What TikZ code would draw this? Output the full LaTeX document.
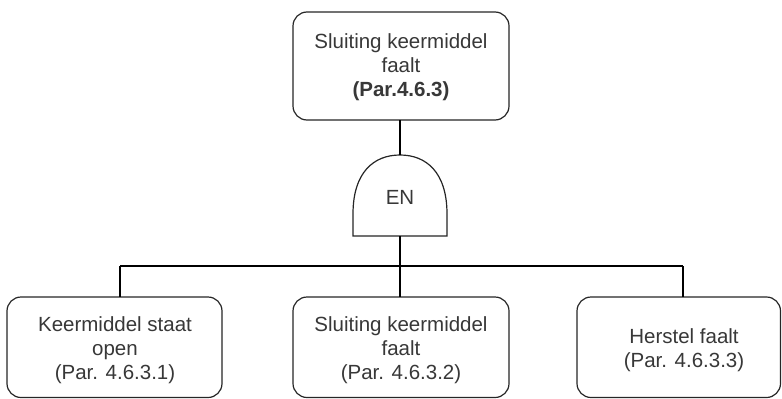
\documentclass[tikz,border=0pt]{standalone}
\usepackage{fontspec}
\setmainfont{Liberation Sans}
\begin{document}
\begin{tikzpicture}[x=1pt,y=-1pt,
  box/.style={draw=black!85, line width=1.2pt, rounded corners=14pt, fill=white},
  label/.style={align=center, text=black!78, font=\fontsize{20.5}{24}\selectfont, inner sep=0pt},
  wire/.style={draw=black, line width=2.8pt},
  gate/.style={draw=black!85, line width=1.2pt, fill=white}]
\useasboundingbox (0,0) rectangle (782,399);

% top event
\draw[box] (293,12) rectangle (509,120);
\node[label] (top) at (401,67) {Sluiting keermiddel\\faalt\\\textbf{(Par.4.6.3)}};
\coordinate (topb) at (400,120);

% AND gate
\draw[gate] (353,236) -- (353,214) .. controls (353,172) and (374,155) .. (400,155)
  .. controls (426,155) and (447,172) .. (447,214) -- (447,236) -- cycle;
\node[label] (en) at (400,197) {EN};
\coordinate (gtop) at (400,155);
\coordinate (gbot) at (400,236);

% bus
\coordinate (bus) at (400,266);
\coordinate (busl) at (120,266);
\coordinate (busr) at (683,266);

% basic events
\draw[box] (7,297) rectangle (222,397.5);
\draw[box] (293,297) rectangle (509,397.5);
\draw[box] (577,297) rectangle (780.5,397.5);
\node[label] (a) at (115,350) {Keermiddel staat\\open\\(Par. 4.6.3.1)};
\node[label] (b) at (401,350) {Sluiting keermiddel\\faalt\\(Par. 4.6.3.2)};
\node[label] (c) at (684,350) {Herstel faalt\\(Par. 4.6.3.3)};
\coordinate (at) at (120,297);
\coordinate (bt) at (400,297);
\coordinate (ct) at (683,297);

% connectors
\draw[wire] (topb) -- (gtop);
\draw[wire] (gbot) -- (bus);
\draw[wire] (busl) -- (busr);
\draw[wire] (busl) -- (at);
\draw[wire] (bus) -- (bt);
\draw[wire] (busr) -- (ct);
\end{tikzpicture}
\end{document}
